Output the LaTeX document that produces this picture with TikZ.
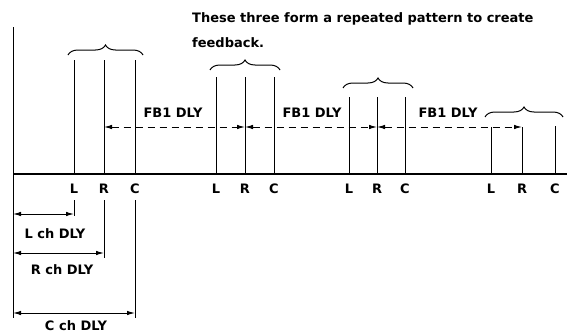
\documentclass[tikz,border=0pt]{standalone}
\usepackage{fontspec}
\setmainfont{DejaVu Sans}
\usepackage{tikz}
\usetikzlibrary{arrows.meta,decorations.pathreplacing}

\tikzset{
  txt/.style = {font = \fontsize{13}{16}\selectfont\bfseries, inner sep = 0pt, anchor = base},
  chan/.style = {line width = 0.9pt},
  axisLine/.style = {line width = 1.2pt},
  fbArrow/.style = {line width = 1pt, dash pattern = on 7pt off 5pt, {Latex[length = 8pt, width = 4.5pt]}-{Latex[length = 8pt, width = 4.5pt]}},
  dimArrow/.style = {line width = 1pt, {Latex[length = 8pt, width = 4.5pt]}-{Latex[length = 8pt, width = 4.5pt]}},
  groupBrace/.style = {line width = 1pt, decorate, decoration = {brace, amplitude = 10pt}}
}

\begin{document}
\begin{tikzpicture}[x = 1pt, y = -1pt]
    \useasboundingbox (0,0) rectangle (567,332);

    % axes
    \coordinate (axisTop) at (13,27);
    \coordinate (origin) at (13,174);
    \coordinate (axisBottom) at (13,318);
    \coordinate (axisEnd) at (567,174);
    \draw [chan] (axisTop) -- (axisBottom);
    \draw [axisLine] (origin) -- (axisEnd);

    % channel lines, group 1 (direct sound)
    \coordinate (topL1) at (74,60);
    \coordinate (topR1) at (104,60);
    \coordinate (topC1) at (135,60);
    \node[txt](chL1) at (74,193) {L};
    \node[txt](chR1) at (104,193) {R};
    \node[txt](chC1) at (135,193) {C};
    \draw [chan] (topL1) -- (topL1 |- origin);
    \draw [chan] (topR1) -- (topR1 |- origin);
    \draw [chan] (topC1) -- (topC1 |- origin);

    % group 2
    \coordinate (topL2) at (216,77);
    \coordinate (topR2) at (245,77);
    \coordinate (topC2) at (274,77);
    \node[txt](chL2) at (216,193) {L};
    \node[txt](chR2) at (245,193) {R};
    \node[txt](chC2) at (274,193) {C};
    \draw [chan] (topL2) -- (topL2 |- origin);
    \draw [chan] (topR2) -- (topR2 |- origin);
    \draw [chan] (topC2) -- (topC2 |- origin);

    % group 3
    \coordinate (topL3) at (349,97);
    \coordinate (topR3) at (377,97);
    \coordinate (topC3) at (405,97);
    \node[txt](chL3) at (349,193) {L};
    \node[txt](chR3) at (377,193) {R};
    \node[txt](chC3) at (405,193) {C};
    \draw [chan] (topL3) -- (topL3 |- origin);
    \draw [chan] (topR3) -- (topR3 |- origin);
    \draw [chan] (topC3) -- (topC3 |- origin);

    % group 4
    \coordinate (topL4) at (491,127);
    \coordinate (topR4) at (522,127);
    \coordinate (topC4) at (555,126);
    \node[txt](chL4) at (491,193) {L};
    \node[txt](chR4) at (522,193) {R};
    \node[txt](chC4) at (555,193) {C};
    \draw [chan] (topL4) -- (topL4 |- origin);
    \draw [chan] (topR4) -- (topR4 |- origin);
    \draw [chan] (topC4) -- (topC4 |- origin);

    % braces
    \draw [groupBrace] (68,55) -- (143,55);
    \draw [groupBrace] (210,70) -- (280,70);
    \draw [groupBrace] (343,88) -- (413,88);
    \draw [groupBrace] (485,117) -- (563,117);

    \node[txt, anchor = north west, align = left](pattern) at (192,12) {These three form a repeated pattern to create\\[9pt]feedback.};

    % feedback delays
    \coordinate (fb1) at (104,127);
    \coordinate (fb2) at (245,127);
    \coordinate (fb3) at (377,127);
    \coordinate (fb4) at (522,127);
    \draw [fbArrow] (fb1) -- (fb2);
    \draw [fbArrow] (fb2) -- (fb3);
    \draw [fbArrow] (fb3) -- (fb4);
    \node[txt](fbLabel1) at (173,117) {FB1 DLY};
    \node[txt](fbLabel2) at (312,117) {FB1 DLY};
    \node[txt](fbLabel3) at (448,117) {FB1 DLY};

    % channel delays
    \coordinate (dimL) at (74,214);
    \coordinate (dimR) at (104,253);
    \coordinate (dimC) at (135,313);
    \draw [chan] ([yshift = -7pt]chL1.south) -- ([yshift = -2pt]dimL);
    \draw [chan] ([yshift = -7pt]chR1.south) -- ([yshift = -5pt]dimR);
    \draw [chan] ([yshift = -7pt]chC1.south) -- ([yshift = -5pt]dimC);
    \draw [dimArrow] (dimL -| origin) -- (dimL);
    \draw [dimArrow] (dimR -| origin) -- (dimR);
    \draw [dimArrow] (dimC -| origin) -- (dimC);
    \node[txt](delayL) at (55,238) {L ch DLY};
    \node[txt](delayR) at (62,274) {R ch DLY};
    \node[txt](delayC) at (76,330) {C ch DLY};
\end{tikzpicture}
\end{document}
